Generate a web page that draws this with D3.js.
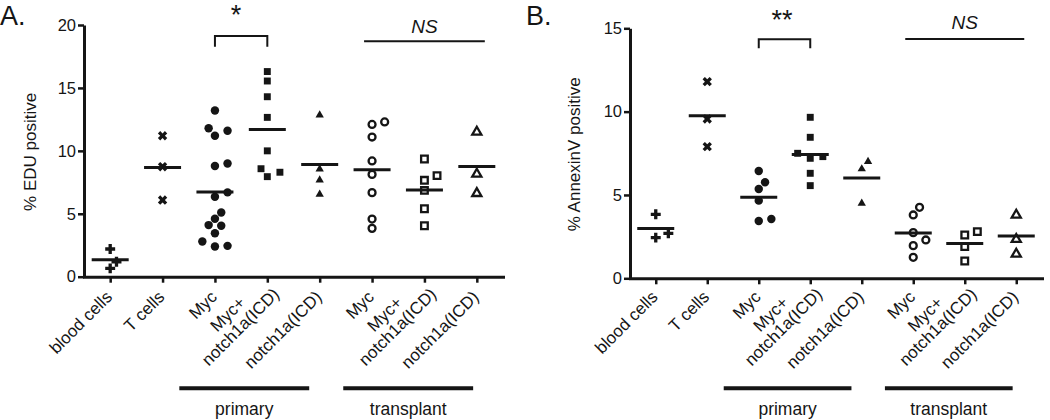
<!DOCTYPE html>
<html><head><meta charset="utf-8">
<script src="https://cdn.jsdelivr.net/npm/d3@7"></script>
<style>
body{margin:0;background:#fff}
text{font-family:"Liberation Sans",Arial,Helvetica,sans-serif;fill:#151515}
</style></head><body><svg id="c" width="1050" height="420"></svg>
<script>
// ---------- data ----------
const categories = ["blood cells","T cells","Myc","Myc+\nnotch1a(ICD)","notch1a(ICD)","Myc","Myc+\nnotch1a(ICD)","notch1a(ICD)"];
const groupNames = ["primary","transplant"];
const groupFirst = [2,5];
const groupLast = [4,7];

// Panel A: % EDU positive
const eduBloodCells = [2.2, 1.19, 0.66];
const eduTCells = [11.2, 8.74, 6.09];
const eduMycPrimary = [13.2, 11.6, 11.8, 11.2, 8.8, 9.0, 6.7, 6.35, 5.1, 4.6, 4.05, 4.1, 3.45, 2.8, 2.4, 2.45];
const eduMycNotchPrimary = [16.3, 15.55, 14.3, 12.66, 10.0, 8.58, 8.3, 7.95];
const eduNotchPrimary = [12.85, 8.56, 7.68, 6.54];
const eduMycTransplant = [12.3, 12.1, 11.1, 9.2, 8.13, 6.68, 4.58, 3.84];
const eduMycNotchTransplant = [9.35, 8.03, 7.66, 6.86, 5.4, 4.05];
const eduNotchTransplant = [11.5, 8.16, 6.62];
const eduTicks = [0,5,10,15,20];

// Panel B: % AnnexinV positive
const annBloodCells = [3.84, 2.44, 2.7];
const annTCells = [11.8, 9.56, 7.9];
const annMycPrimary = [6.44, 5.76, 5.36, 4.66, 3.44, 3.56];
const annMycNotchPrimary = [9.66, 8.46, 7.5, 7.2, 7.3, 6.3, 5.56];
const annNotchPrimary = [7.0, 6.56, 4.5];
const annMycTransplant = [4.26, 3.8, 2.74, 2.3, 1.96, 1.26];
const annMycNotchTransplant = [2.8, 2.6, 1.9, 1.04];
const annNotchTransplant = [3.8, 2.34, 1.46];
const annTicks = [0,5,10,15];

// ---------- styles ----------
const markerKinds = ["plus","x","circle","square","triangle","circleOpen","squareOpen","triangleOpen"];
const INK = "#151515";

const panels = [
  {letter:"A.", lx:0, label:"% EDU positive", labelX:36,
   series:[eduBloodCells,eduTCells,eduMycPrimary,eduMycNotchPrimary,eduNotchPrimary,eduMycTransplant,eduMycNotchTransplant,eduNotchTransplant],
   ymax:20, ticks:eduTicks, xr:[84,503], yr:[276.7,25],
   sig:"*", sigX:236, sigY:24, brTop:36, brBot:46.7, nsY:33, nsLine:41.3},
  {letter:"B.", lx:526, label:"% AnnexinV positive", labelX:580,
   series:[annBloodCells,annTCells,annMycPrimary,annMycNotchPrimary,annNotchPrimary,annMycTransplant,annMycNotchTransplant,annNotchTransplant],
   ymax:15, ticks:annTicks, xr:[630,1042], yr:[278.3,28.3],
   sig:"**", sigX:782, sigY:29, brTop:39.3, brBot:48.3, nsY:29, nsLine:39}
];
const groupOffsets = [[0.68,0.2],[0.55,0.07]];

const svg = d3.select("#c");

function symbolPath(kind){
  const S = {
    plus:[d3.symbolCross,55], x:[d3.symbolCross,55], circle:[d3.symbolCircle,56],
    square:[d3.symbolSquare,48], triangle:[d3.symbolTriangle,30],
    circleOpen:[d3.symbolCircle,38], squareOpen:[d3.symbolSquare,44], triangleOpen:[d3.symbolTriangle,36]
  }[kind];
  return d3.symbol().type(S[0]).size(S[1])();
}

function dodge(values, y, s, d){
  const pts = values.map(v=>({v, y:y(v), off:0}));
  const sorted = pts.slice().sort((a,b)=>a.v-b.v);
  const placed = [];
  for (const p of sorted){
    for (let k=0;k<30;k++){
      const m = k===0?0:(k%2===1?Math.ceil(k/2):-Math.ceil(k/2));
      const off = m*s;
      if (placed.every(q=>Math.hypot(q.off-off,q.y-p.y)>=d)){p.off=off;break;}
    }
    placed.push(p);
  }
  return pts;
}

panels.forEach(P=>{
  const g = svg.append("g");
  const x = d3.scalePoint().domain(d3.range(categories.length)).range(P.xr).padding(0.5);
  const y = d3.scaleLinear().domain([0,P.ymax]).range(P.yr);
  const step = x.step();

  // panel letter
  g.append("text").attr("x",P.lx).attr("y",25).attr("font-size",27).text(P.letter);

  // y axis
  const ya = g.append("g").attr("transform",`translate(${P.xr[0]},0)`)
    .call(d3.axisLeft(y).tickValues(P.ticks).tickSize(6).tickSizeOuter(0).tickPadding(2));
  ya.select(".domain").attr("stroke",INK).attr("stroke-width",3);
  ya.selectAll(".tick line").attr("stroke",INK).attr("stroke-width",2.5);
  ya.selectAll(".tick text").attr("font-size",16.5).attr("font-family","Liberation Sans, Arial").attr("fill",INK);

  // x axis
  const xa = g.append("g").attr("transform",`translate(0,${P.yr[0]})`)
    .call(d3.axisBottom(x).tickFormat("").tickSize(6).tickSizeOuter(0));
  xa.select(".domain").attr("stroke",INK).attr("stroke-width",3).attr("stroke-linecap","square");
  xa.selectAll(".tick line").attr("stroke",INK).attr("stroke-width",2.5);

  // y label
  g.append("text").attr("transform",`translate(${P.labelX},${(P.yr[0]+P.yr[1])/2+1}) rotate(-90)`)
    .attr("text-anchor","middle").attr("font-size",17).text(P.label);

  // x labels
  categories.forEach((c,i)=>{
    const lines = c.split("\n");
    const lg = g.append("g").attr("transform",`translate(${x(i)+3},298) rotate(-45)`);
    if (lines.length===1){
      lg.append("text").attr("text-anchor","end").attr("font-size",17).text(lines[0]);
    } else {
      const ts = lines.map((l,j)=>lg.append("text").attr("font-size",17).attr("text-anchor","middle").text(l));
      const wmax = d3.max(ts,t=>t.node().getComputedTextLength());
      const n = lines.length;
      ts.forEach((t,j)=>t.attr("x",-wmax/2+9).attr("y",5-(n-1-j)*18));
    }
  });

  // points
  P.series.forEach((vals,i)=>{
    const kind = markerKinds[i];
    const pts = dodge(vals,y,6.3,8.5);
    const open = kind.endsWith("Open");
    g.append("g").selectAll("path").data(pts).join("path")
      .attr("d",symbolPath(kind))
      .attr("transform",p=>`translate(${x(i)+p.off},${p.y})${kind==="x"?" rotate(45)":""}`)
      .attr("fill",open?"#fff":INK)
      .attr("stroke",open?INK:"none")
      .attr("stroke-width",open?2.3:0);
    const m = d3.mean(vals);
    g.append("line").attr("x1",x(i)-18.5).attr("x2",x(i)+18.5)
      .attr("y1",y(m)).attr("y2",y(m)).attr("stroke",INK).attr("stroke-width",3);
  });

  // significance bracket
  g.append("path").attr("d",`M${x(2)},${P.brBot}V${P.brTop}H${x(3)}V${P.brBot}`)
    .attr("fill","none").attr("stroke",INK).attr("stroke-width",2);
  g.append("text").attr("x",P.sigX).attr("y",P.sigY).attr("text-anchor","middle").attr("font-size",27).text(P.sig);

  // NS
  g.append("line").attr("x1",x(5)-8).attr("x2",x(7)+8).attr("y1",P.nsLine).attr("y2",P.nsLine)
    .attr("stroke",INK).attr("stroke-width",2);
  g.append("text").attr("x",(x(5)+x(7))/2).attr("y",P.nsY).attr("text-anchor","middle")
    .attr("font-size",19).attr("font-style","italic").text("NS");

  // group bars
  groupNames.forEach((name,k)=>{
    const x1 = x(groupFirst[k]) - groupOffsets[k][0]*step;
    const x2 = x(groupLast[k]) - groupOffsets[k][1]*step;
    g.append("line").attr("x1",x1).attr("x2",x2).attr("y1",388.3).attr("y2",388.3)
      .attr("stroke",INK).attr("stroke-width",4);
    g.append("text").attr("x",(x1+x2)/2).attr("y",414.5).attr("text-anchor","middle")
      .attr("font-size",17.5).text(name);
  });
});
</script></body></html>
